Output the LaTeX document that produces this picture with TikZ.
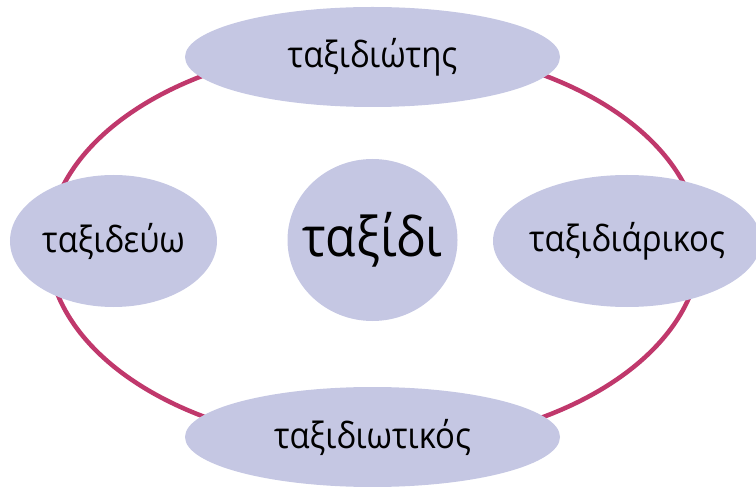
\documentclass[tikz,border=0pt]{standalone}
\usepackage{fontspec}
\setmainfont{Open Sans}
\usetikzlibrary{shapes.geometric}
\definecolor{ringc}{RGB}{192,56,108}
\definecolor{lav}{RGB}{197,199,227}
\tikzset{
  blob/.style={ellipse, fill=lav, draw=none, inner sep=0pt},
  lbl/.style={inner sep=0pt, font=\fontsize{33}{36}\selectfont},
  biglbl/.style={inner sep=0pt, font=\fontsize{50}{54}\selectfont},
}
\begin{document}
\begin{tikzpicture}[x=1bp,y=-1bp]
\useasboundingbox (0,0) rectangle (756,487);
\begin{scope}
\clip (0,0) rectangle (756,487);
\draw[ringc, line width=4.5bp] (374,246) ellipse [x radius=326, y radius=200];
\node[blob, minimum width=375bp, minimum height=100bp] (top) at (372.5,57) {};
\node[blob, minimum width=375bp, minimum height=100bp] (bottom) at (372.5,437) {};
\node[blob, minimum width=207bp, minimum height=132bp] (left) at (113.5,241) {};
\node[blob, minimum width=268bp, minimum height=132bp] (right) at (627,241) {};
\node[blob, minimum width=170bp, minimum height=162bp] (center) at (372.5,240) {};
\node[lbl] (toptext) at (top.center) {\scalebox{1}[1.1]{ταξιδιώτης}};
\node[lbl] (bottomtext) at (bottom.center) {\scalebox{1}[1.1]{ταξιδιωτικός}};
\node[lbl] (lefttext) at (left.center) {\scalebox{1}[1.1]{ταξιδεύω}};
\node[lbl] (righttext) at (right.center) {\scalebox{1}[1.1]{ταξιδιάρικος}};
\node[biglbl] (centertext) at (center.center) {\scalebox{1}[1.1]{ταξίδι}};
\end{scope}
\end{tikzpicture}
\end{document}
